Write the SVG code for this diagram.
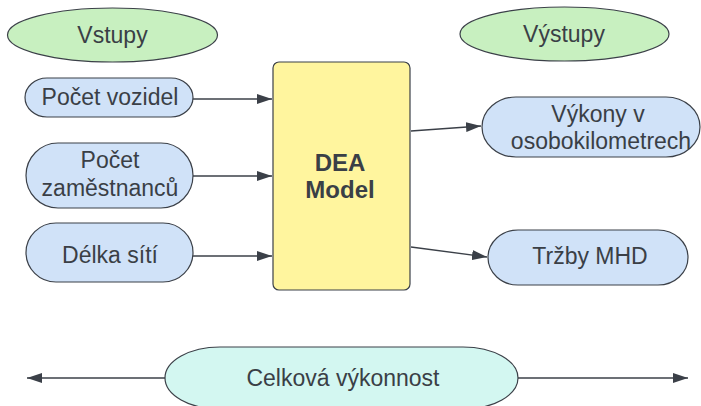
<svg xmlns="http://www.w3.org/2000/svg" width="701" height="406" viewBox="0 0 701 406">
<style>
.sh{stroke:#3b4048;stroke-width:1.2}
.g{fill:#c8f0c0}
.b{fill:#d0e2f8}
.y{fill:#fff59e}
.c{fill:#d3f7f1}
text{font-family:"Liberation Sans",Arial,sans-serif;font-size:23px;fill:#3a3f46;text-anchor:middle}
.bold{font-weight:bold;font-size:24px}
.ln{stroke:#3b4048;stroke-width:1.3;fill:none;marker-end:url(#ah)}
</style>
<defs>
<marker id="ah" viewBox="0 0 15 10" refX="15" refY="5" markerWidth="15" markerHeight="10" markerUnits="userSpaceOnUse" orient="auto-start-reverse">
<path d="M0,0 L15,5 L0,10 Z" fill="#3b4048"/>
</marker>
</defs>
<rect width="701" height="406" fill="#ffffff"/>
<g id="connectors">
<line class="ln" x1="193" y1="99" x2="272" y2="99"/>
<line class="ln" x1="193" y1="176" x2="272" y2="176"/>
<line class="ln" x1="193" y1="256" x2="272" y2="256"/>
<line class="ln" x1="411" y1="131" x2="481" y2="126"/>
<line class="ln" x1="411" y1="247" x2="487" y2="257"/>
<line class="ln" x1="165" y1="378" x2="27" y2="378"/>
<line class="ln" x1="518" y1="378" x2="688" y2="378"/>
</g>
<g id="vstupy">
<ellipse class="sh g" cx="112.5" cy="35" rx="105" ry="27"/>
<text x="112.5" y="43">Vstupy</text>
</g>
<g id="vystupy">
<ellipse class="sh g" cx="564.5" cy="34" rx="104.5" ry="27"/>
<text x="564" y="42">Výstupy</text>
</g>
<g id="pocet-vozidel">
<rect class="sh b" x="25" y="78" width="168" height="39" rx="22" ry="19.5"/>
<text x="110" y="105">Počet vozidel</text>
</g>
<g id="pocet-zamestnancu">
<rect class="sh b" x="26" y="143" width="167" height="65" rx="32" ry="32.5"/>
<text x="110" y="168">Počet</text>
<text x="110" y="196">zaměstnanců</text>
</g>
<g id="delka-siti">
<rect class="sh b" x="26" y="223" width="167" height="59" rx="30" ry="29.5"/>
<text x="110" y="263">Délka sítí</text>
</g>
<g id="dea">
<rect class="sh y" x="273" y="62" width="137" height="228" rx="6"/>
<text class="bold" x="340" y="171">DEA</text>
<text class="bold" x="340" y="198">Model</text>
</g>
<g id="vykony">
<rect class="sh b" x="482" y="97" width="218" height="60" rx="34" ry="30"/>
<text x="598" y="122">Výkony v</text>
<text x="601" y="149">osobokilometrech</text>
</g>
<g id="trzby">
<rect class="sh b" x="488" y="230" width="200" height="55" rx="30" ry="27.5"/>
<text x="590" y="264">Tržby MHD</text>
</g>
<g id="celkova">
<rect class="sh c" x="165" y="347" width="353" height="62" rx="55" ry="31"/>
<text x="343" y="386">Celková výkonnost</text>
</g>
</svg>
